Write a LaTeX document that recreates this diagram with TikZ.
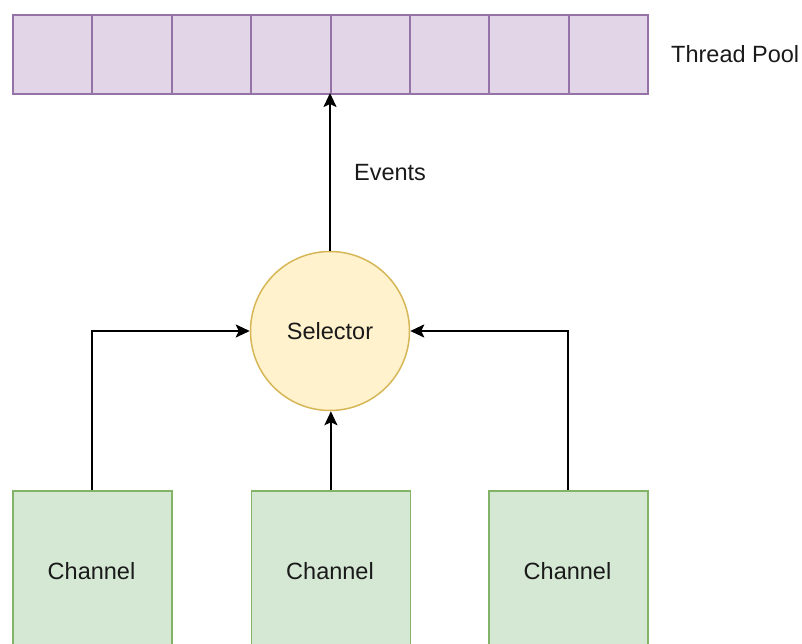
\documentclass[tikz,border=0pt]{standalone}
\usepackage{fontspec}
\setmainfont{Liberation Sans}
\usetikzlibrary{arrows.meta}
\definecolor{poolfill}{HTML}{E1D5E7}
\definecolor{poolline}{HTML}{9673A6}
\definecolor{selfill}{HTML}{FFF2CC}
\definecolor{selline}{HTML}{D6B656}
\definecolor{chfill}{HTML}{D5E8D4}
\definecolor{chline}{HTML}{82B366}
\definecolor{txt}{HTML}{1A1A1A}
\tikzset{
  cell/.style={draw=poolline, fill=poolfill, line width=2pt, minimum width=79.4pt, minimum height=79pt, inner sep=0pt, anchor=north west},
  chbox/.style={draw=chline, fill=chfill, line width=1.8pt, minimum width=159pt, minimum height=160pt, inner sep=0pt, anchor=north west, text=txt},
  selnode/.style={circle, draw=selline, fill=selfill, line width=1.5pt, minimum size=159pt, inner sep=0pt, text=txt},
  conn/.style={draw=black, line width=2pt, -{Stealth[length=14pt,width=13pt,inset=3pt]}},
  lbl/.style={text=txt, inner sep=0pt},
}
\begin{document}
\begin{tikzpicture}[x=1pt,y=-1pt, font=\fontsize{23.5}{28}\selectfont]
\path[use as bounding box] (0,0) rectangle (802,644);
\clip (0,0) rectangle (802,644);
\foreach \i in {0,...,7} {
  \node[cell] (c\i) at ({12+79.375*\i},14) {};
}
\node[lbl, anchor=west] (tp) at (671,54) {Thread Pool};
\node[selnode] (sel) at (330,331) {Selector};
\node[chbox] (ch1) at (12,490) {};
\node[chbox] (ch2) at (250.5,490) {};
\node[chbox] (ch3) at (488,490) {};
\node[lbl] (t1) at (91.5,571) {Channel};
\node[lbl] (t2) at (330,571) {Channel};
\node[lbl] (t3) at (567.5,571) {Channel};
\coordinate (pooltop) at (330,93);
\draw[conn] (sel.north) -- (pooltop);
\node[lbl] (ev) at (390,173) {Events};
\draw[conn] (ch1.north) |- (sel.west);
\draw[conn] (ch2.north) -- (ch2.north |- sel.south);
\draw[conn] (ch3.north) |- (sel.east);
\end{tikzpicture}
\end{document}
